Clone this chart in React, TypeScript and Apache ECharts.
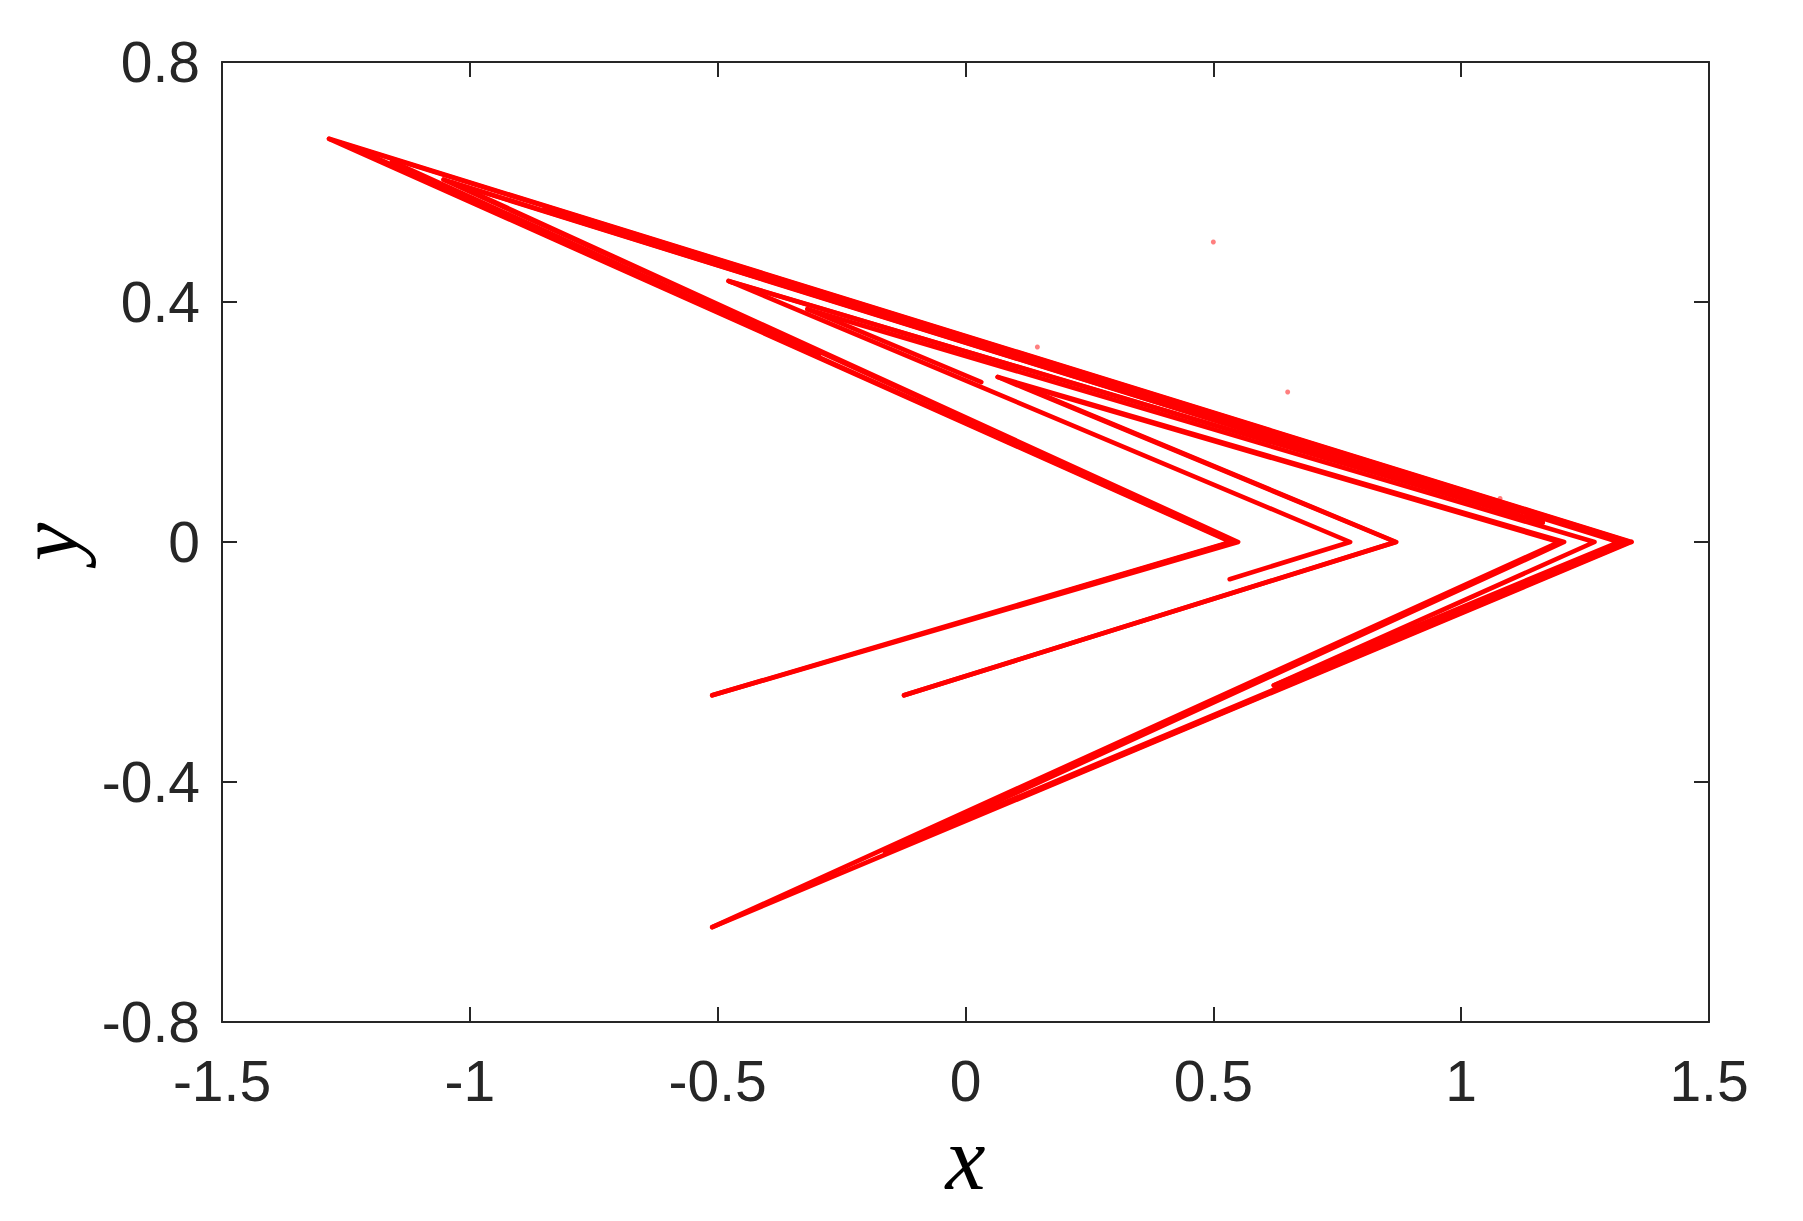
import React, { useEffect, useRef } from "react";
import * as echarts from "echarts";

// Axis ranges / ticks
const xRange = [-1.5, 1.5];
const xStep = 0.5;
const yRange = [-0.8, 0.8];
const yStep = 0.4;

// Strands of the attractor as [x, y] vertices
const upperOuter = [[-1.284, 0.672], [1.3435, 0]];
const lowerOuter = [[1.3435, 0], [-0.511, -0.642]];
const innerV1 = [[-1.284, 0.672], [0.535, 0], [-0.511, -0.2555]];
const innerV2 = [[-1.036, 0.599], [0.55, 0], [-0.511, -0.2555]];
const innerV3 = [[-1.264, 0.666], [0.538, 0], [0.2066, -0.081]];
const innerV4 = [[-1.053, 0.604], [0.5433, 0], [0.2066, -0.081]];
const innerFill1 = [[-1.24, 0.659], [-0.296, 0.311]];
const innerFill2 = [[-1.157, 0.6345], [-0.296, 0.311]];
const outerV1 = [[0.0905, 0.2675], [1.1976, 0], [-0.511, -0.642]];
const outerV2 = [[0.065, 0.275], [1.2077, 0], [-0.162, -0.518]];
const outerV3 = [[-0.848, 0.557], [1.332, 0], [-0.162, -0.518]];
const outerV4 = [[-0.848, 0.557], [1.3177, 0], [0.622, -0.239]];
const outerV5 = [[-0.319, 0.388], [1.269, 0], [0.622, -0.239]];
const outerV6 = [[-1.264, 0.666], [1.3403, 0], [0.1154, -0.424]];
const middleV1 = [[0.0905, 0.2675], [0.869, 0], [-0.124, -0.2555]];
const middleV2 = [[0.065, 0.275], [0.8675, 0], [-0.124, -0.2555]];
const middleV3 = [[-0.478, 0.435], [0.776, 0], [0.533, -0.062]];
const upperBand1 = [[1.1137, 0.0453], [-1.036, 0.599]];
const upperBand2 = [[1.1645, 0.0325], [-1.053, 0.604]];
const middleBand1 = [[1.1137, 0.0453], [-0.478, 0.435]];
const middleBand2 = [[1.1645, 0.0325], [-0.4748, 0.4338]];
const shortStrand = [[0.032, 0.2665], [-0.319, 0.388]];

const strands = [
  upperOuter, lowerOuter, innerV1, innerV2, innerV3, innerV4, innerFill1, innerFill2,
  outerV1, outerV2, outerV3, outerV4, outerV5, outerV6,
  middleV1, middleV2, middleV3, upperBand1, upperBand2,
  middleBand1, middleBand2, shortStrand,
];

// Isolated transient points
const transientPoints = [[0.5, 0.5], [0.65, 0.25], [0.145, 0.325], [1.0785, 0.0725]];

const axisColor = "#262626";
const red = "#ff0000";

export default function App() {
  const ref = useRef<HTMLDivElement>(null);

  useEffect(() => {
    if (!ref.current) return;
    const chart = echarts.init(ref.current, undefined, { renderer: "svg" });

    const tickLabel = {
      show: true,
      fontSize: 57,
      color: axisColor,
      fontFamily: "Liberation Sans, Arial, sans-serif",
      showMinLabel: true,
      showMaxLabel: true,
    };
    const lineStyle = { color: axisColor, width: 2 };
    const tick = { show: true, inside: true, length: 15, lineStyle };
    const nameStyle = {
      fontSize: 90,
      fontStyle: "italic",
      fontFamily: "Liberation Serif, Times New Roman, serif",
      color: "#000000",
    };

    const series: any[] = strands.map((s, i) => ({
      type: "line",
      name: "strand" + i,
      data: s,
      showSymbol: false,
      symbol: "none",
      lineStyle: { color: red, width: 4.6, cap: "round", join: "round" },
      silent: true,
      z: 2,
    }));
    series.push({
      type: "scatter",
      name: "transient",
      data: transientPoints,
      symbolSize: 5,
      itemStyle: { color: red, opacity: 0.5 },
      silent: true,
    });

    chart.setOption({
      animation: false,
      backgroundColor: "#ffffff",
      grid: {
        left: 222,
        right: 94,
        top: 62,
        bottom: 199,
        containLabel: false,
        outerBoundsMode: "none",
      },
      xAxis: [
        {
          type: "value",
          min: xRange[0],
          max: xRange[1],
          interval: xStep,
          position: "bottom",
          axisLine: { show: true, onZero: false, lineStyle },
          axisTick: tick,
          axisLabel: { ...tickLabel, margin: 30 },
          splitLine: { show: false },
          name: "x",
          nameLocation: "middle",
          nameGap: 86,
          nameTextStyle: nameStyle,
        },
        {
          type: "value",
          min: xRange[0],
          max: xRange[1],
          interval: xStep,
          position: "top",
          axisLine: { show: true, onZero: false, lineStyle },
          axisTick: tick,
          axisLabel: { show: false },
          splitLine: { show: false },
        },
      ],
      yAxis: [
        {
          type: "value",
          min: yRange[0],
          max: yRange[1],
          interval: yStep,
          position: "left",
          axisLine: { show: true, onZero: false, lineStyle },
          axisTick: tick,
          axisLabel: { ...tickLabel, margin: 22 },
          splitLine: { show: false },
          name: "y",
          nameLocation: "middle",
          nameGap: 126,
          nameTextStyle: { ...nameStyle, fontSize: 86, lineHeight: 70 },
        },
        {
          type: "value",
          min: yRange[0],
          max: yRange[1],
          interval: yStep,
          position: "right",
          axisLine: { show: true, onZero: false, lineStyle },
          axisTick: tick,
          axisLabel: { show: false },
          splitLine: { show: false },
        },
      ],
      series,
    });

    return () => chart.dispose();
  }, []);

  return (
    <div
      ref={ref}
      style={{ position: "fixed", left: 0, top: 0, width: 1803, height: 1221, background: "#fff" }}
    />
  );
}
